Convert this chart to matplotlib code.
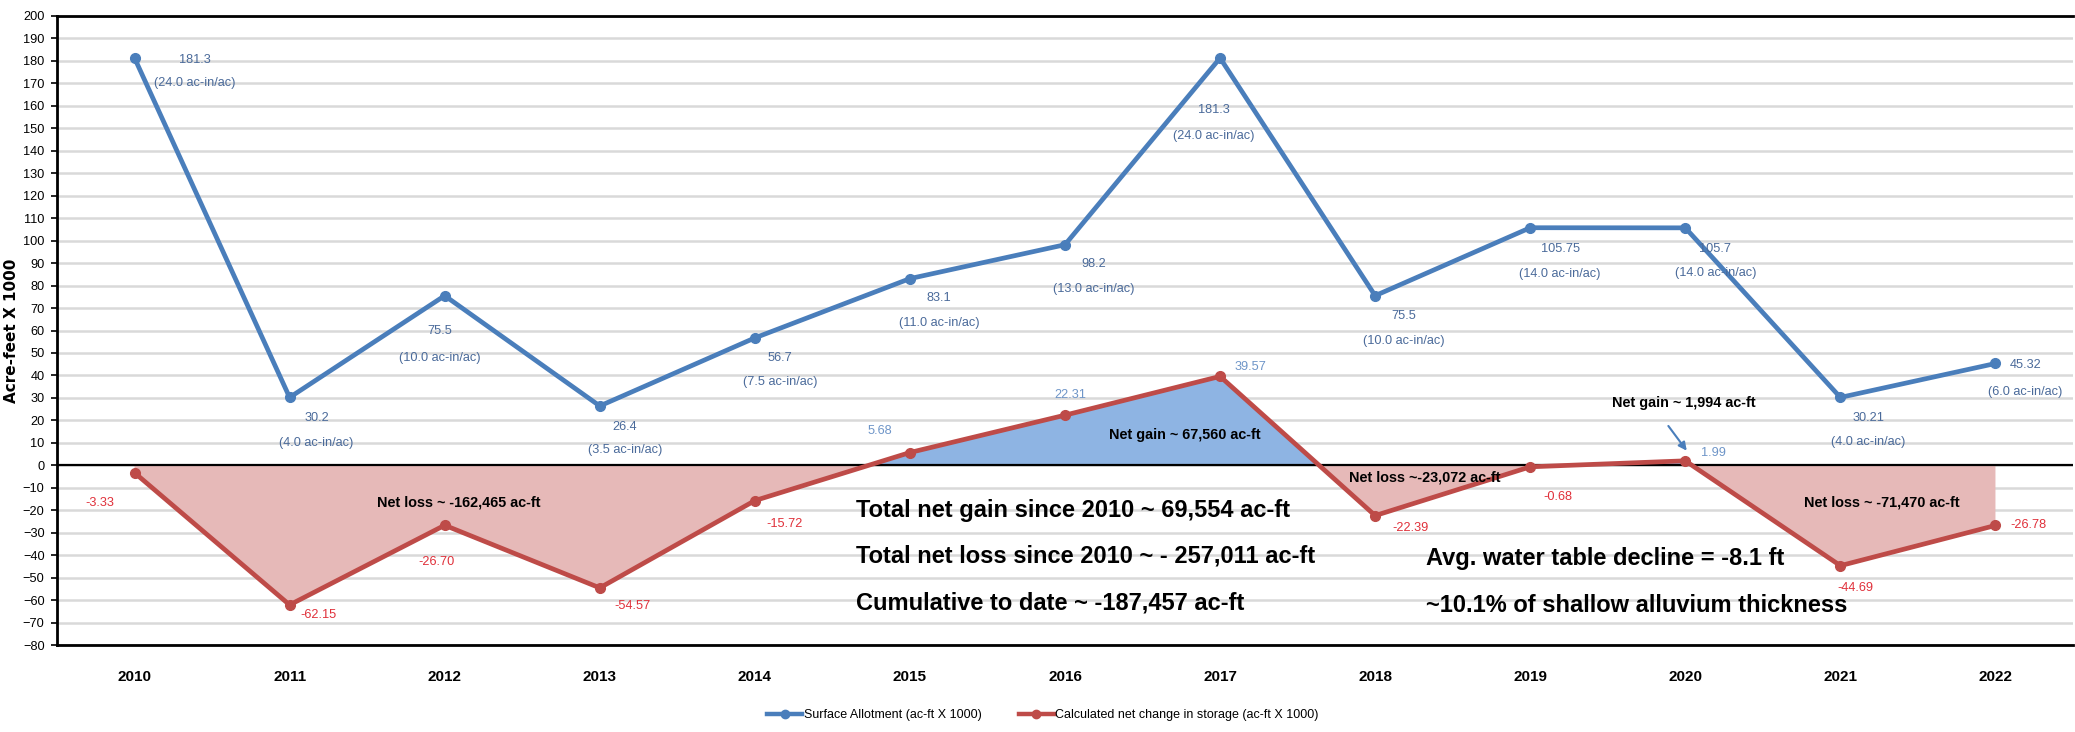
import matplotlib
matplotlib.use("Agg")
import matplotlib.pyplot as plt
from matplotlib import font_manager
from matplotlib.lines import Line2D
import numpy as np

# ---------------- data ----------------
years = ["2010", "2011", "2012", "2013", "2014", "2015", "2016",
         "2017", "2018", "2019", "2020", "2021", "2022"]
surface_allotment = [181.3, 30.2, 75.5, 26.4, 56.7, 83.1, 98.2,
                     181.3, 75.5, 105.75, 105.7, 30.21, 45.32]
allotment_value_labels = ["181.3", "30.2", "75.5", "26.4", "56.7", "83.1", "98.2",
                          "181.3", "75.5", "105.75", "105.7", "30.21", "45.32"]
allotment_depth_labels = ["(24.0 ac-in/ac)", "(4.0 ac-in/ac)", "(10.0 ac-in/ac)",
                          "(3.5 ac-in/ac)", "(7.5 ac-in/ac)", "(11.0 ac-in/ac)",
                          "(13.0 ac-in/ac)", "(24.0 ac-in/ac)", "(10.0 ac-in/ac)",
                          "(14.0 ac-in/ac)", "(14.0 ac-in/ac)", "(4.0 ac-in/ac)",
                          "(6.0 ac-in/ac)"]
net_change = [-3.33, -62.15, -26.70, -54.57, -15.72, 5.68, 22.31,
              39.57, -22.39, -0.68, 1.99, -44.69, -26.78]
net_change_labels = ["-3.33", "-62.15", "-26.70", "-54.57", "-15.72", "5.68", "22.31",
                     "39.57", "-22.39", "-0.68", "1.99", "-44.69", "-26.78"]
y_ticks = list(range(-80, 201, 10))

series_names = ["Surface Allotment (ac-ft X 1000)",
                "Calculated net change in storage (ac-ft X 1000)"]

# ---------------- styles ----------------
names = {f.name for f in font_manager.fontManager.ttflist}
NARROW = "Liberation Sans Narrow" if "Liberation Sans Narrow" in names else "Liberation Sans"

BLUE = "#4A7EBB"
RED = "#BE4B48"
PINK_FILL = "#E6B9B8"
BLUE_FILL = "#8EB4E3"
BLUE_TXT = "#4A6A9A"
LIGHT_BLUE_TXT = "#6E95C8"
RED_TXT = "#E0303A"

# label offsets in pixels (dx, dy-down) for value / depth lines
blue_offsets = [(60, 2, 25), (27, 21, 46), (-5, 35, 62), (25, 21, 44), (25, 20, 44),
                (29, 19, 44), (29, 19, 44), (-6, 52, 78), (29, 20, 45), (30, 21, 46),
                (30, 21, 45), (28, 21, 45), (30, 2, 29)]
red_offsets = [(-35, 30), (29, 10), (-8, 37), (33, 18), (30, 23), (-30, -22), (5, -20),
               (30, -9), (35, 12), (28, 30), (28, -8), (15, 22), (33, 0)]

W, H = 2075, 732
fig = plt.figure(figsize=(W / 100, H / 100), dpi=100)
ax = fig.add_axes([57 / W, 87 / H, 2016 / W, 629 / H])

x = np.arange(len(years))
sa = np.array(surface_allotment)
nc = np.array(net_change)

# grid
ax.set_yticks(y_ticks)
ax.set_ylim(-80, 200)
ax.set_xlim(-0.5, len(years) - 0.5)
ax.yaxis.grid(True, color="#D9D9D9", lw=1.8, zorder=0)
ax.set_axisbelow(True)

# fills
ax.fill_between(x, nc, 0, where=nc <= 0, interpolate=True, color=PINK_FILL,
                lw=0, zorder=1)
ax.fill_between(x, nc, 0, where=nc >= 0, interpolate=True, color=BLUE_FILL,
                lw=0, zorder=1)
ax.axhline(0, color="black", lw=1.6, zorder=2)

# lines
ax.plot(x, sa, color=BLUE, lw=3.4, marker="o", ms=7, zorder=4,
        solid_joinstyle="round")
ax.plot(x, nc, color=RED, lw=3.4, marker="o", ms=7, zorder=4,
        solid_joinstyle="round")

LBL = 9.2
# blue labels
for i in range(len(years)):
    dx, d1, d2 = blue_offsets[i]
    ax.annotate(allotment_value_labels[i], xy=(x[i], sa[i]), xytext=(dx, -d1),
                textcoords="offset pixels", ha="center", va="center",
                fontsize=LBL, family=NARROW, color=BLUE_TXT, zorder=6)
    ax.annotate(allotment_depth_labels[i], xy=(x[i], sa[i]), xytext=(dx, -d2),
                textcoords="offset pixels", ha="center", va="center",
                fontsize=LBL, family=NARROW, color=BLUE_TXT, zorder=6)

# net change labels
for i in range(len(years)):
    dx, dy = red_offsets[i]
    col = LIGHT_BLUE_TXT if nc[i] > 0 else RED_TXT
    ax.annotate(net_change_labels[i], xy=(x[i], nc[i]), xytext=(dx, -dy),
                textcoords="offset pixels", ha="center", va="center",
                fontsize=LBL, family=NARROW, color=col, zorder=6)

# region annotations
region_kw = dict(fontsize=10.4, family=NARROW, fontweight="bold", color="black",
                 ha="center", va="center", zorder=6)
ax.text(2.09, -16.5, "Net loss ~ -162,465 ac-ft", **region_kw)
ax.text(6.77, 13.4, "Net gain ~ 67,560 ac-ft", **region_kw)
ax.text(8.32, -5.3, "Net loss ~-23,072 ac-ft", **region_kw)
ax.text(11.27, -16.5, "Net loss ~ -71,470 ac-ft", **region_kw)
ax.text(9.99, 27.6, "Net gain ~ 1,994 ac-ft", **region_kw)
ax.annotate("", xy=(10.02, 5.5), xytext=(9.88, 18.5),
            arrowprops=dict(arrowstyle="-|>", color=BLUE, lw=1.5,
                            mutation_scale=12), zorder=6)

# summary text
big_kw = dict(fontsize=17, family=NARROW, fontweight="bold", color="black",
              ha="left", va="center", zorder=6)
ax.text(4.65, -20.0, "Total net gain since 2010 ~ 69,554 ac-ft", **big_kw)
ax.text(4.65, -40.5, "Total net loss since 2010 ~ - 257,011 ac-ft", **big_kw)
ax.text(4.65, -61.5, "Cumulative to date ~ -187,457 ac-ft", **big_kw)
ax.text(8.33, -41.4, "Avg. water table decline = -8.1 ft", **big_kw)
ax.text(8.33, -62.3, "~10.1% of shallow alluvium thickness", **big_kw)

# axes styling
ax.set_xticks(x)
ax.set_xticklabels(years, fontsize=11, fontweight="bold", family=NARROW)
ax.tick_params(axis="x", length=0, pad=18)
ax.tick_params(axis="y", length=4, width=1.2, pad=5, direction="out")
for lab in ax.get_yticklabels():
    lab.set_fontsize(9.2)
    lab.set_family(NARROW)
for side in ["top", "left", "bottom"]:
    ax.spines[side].set_linewidth(2)
    ax.spines[side].set_color("black")
ax.spines["right"].set_visible(False)

fig.text(12 / W, 1 - 331 / H, "Acre-feet X 1000", rotation=90, ha="center",
         va="center", fontsize=11, fontweight="bold", family="DejaVu Sans")

handles = [Line2D([], [], color=BLUE, lw=3.2, marker="o", ms=6),
           Line2D([], [], color=RED, lw=3.2, marker="o", ms=6)]
fig.legend(handles, series_names, loc="center", ncol=2,
           bbox_to_anchor=(1043 / W, 1 - 715 / H), frameon=False,
           prop={"family": NARROW, "size": 9}, handlelength=2.8,
           handletextpad=0.1, columnspacing=3.0)

fig.savefig("out.png", dpi=100)
